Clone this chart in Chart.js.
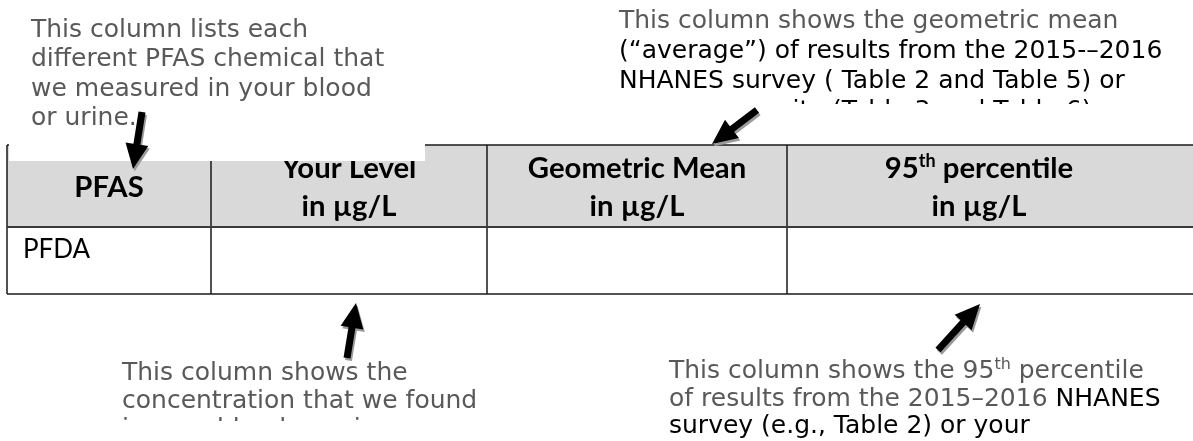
<!DOCTYPE html>
<html lang="en">
<head>
    <meta charset="UTF-8">
    <title>PFAS results table</title>
    <script src="https://cdn.jsdelivr.net/npm/chart.js"></script>
    <style>
        html, body { margin: 0; padding: 0; background: #fff; }
        #wrap { width: 1193px; height: 441px; }
    </style>
</head>
<body>
    <div id="wrap"><canvas id="pfasTable" width="1193" height="441"></canvas></div>
    <script>
        // table content
        const headLine1 = ['PFAS', 'Your Level', 'Geometric Mean', '95^th percentile'];
        const headLine2 = ['', 'in µg/L', 'in µg/L', 'in µg/L'];
        const rowLabels = ['PFDA'];

        // callout texts (segments; '^' marks superscript)
        const noteTopLeft = [
            ['This column lists each'],
            ['different PFAS chemical that'],
            ['we measured in your blood'],
            ['or urine.']
        ];
        const noteTopRight = [
            ['This column shows the geometric mean'],
            ['(“average”) of results from the 2015-–2016'],
            ['NHANES survey ( Table 2 and Table 5) or'],
            ['your community (Table 3 and Table 6)']
        ];
        const noteBottomLeft = [
            ['This column shows the'],
            ['concentration that we found'],
            ['in your blood or urine.']
        ];
        const noteBottomRight = [
            ['This column shows the 95', '^th', ' percentile'],
            ['of results from the 2015–2016 ', 'NHANES'],
            ['survey (e.g., Table 2) or your']
        ];

        // layout, in page units (the scales below map 0..1193 / 0..441)
        const grey = '#595959', ink = '#000';
        const layout = {
            cols: [7, 211, 487, 787, 1193],
            headTop: 145, headBottom: 227, rowBottom: 294,
            headCenters: [109, 349, 637, 979],
            headBase: [178, 216], singleBase: 197,
            headSize: 29.3,
            rowLeft: 23, rowBase: 258,
            mask: [9, 143, 425, 161],
            notes: [
                { lines: noteTopLeft, x: 31, y: 37, gap: 29.3, inks: [[grey], [grey], [grey], [grey]] },
                { lines: noteTopRight, x: 619, y: 28, gap: 30, clip: 104, inks: [[grey], [ink], [ink], [ink]] },
                { lines: noteBottomLeft, x: 122, y: 380, gap: 28, clip: 421, inks: [[grey], [grey], [grey]] },
                { lines: noteBottomRight, x: 669, y: 378, gap: 27.5, inks: [[grey, grey, grey], [grey, ink], [ink]] }
            ],
            arrows: [
                [142, 112, 133, 169],
                [757, 110, 712, 144],
                [347, 358, 356, 303],
                [938, 350, 980, 304]
            ]
        };

        const noteFont = '"DejaVu Sans"';
        const headFont = 'Lato';

        function drawRuns(ctx, runs, inks, x0, base, size, family, weight, align) {
            const sup = r => r.startsWith('^');
            const fontFor = r => (weight || '') + ' ' + (sup(r) ? Math.round(size * 0.62) : size) + 'px ' + family;
            let total = 0;
            runs.forEach(r => { ctx.font = fontFor(r); total += ctx.measureText(sup(r) ? r.slice(1) : r).width; });
            let x = align === 'center' ? x0 - total / 2 : x0;
            ctx.textAlign = 'left';
            ctx.textBaseline = 'alphabetic';
            runs.forEach((r, i) => {
                const t = sup(r) ? r.slice(1) : r;
                ctx.font = fontFor(r);
                ctx.fillStyle = inks ? inks[i] : ink;
                ctx.fillText(t, x, sup(r) ? base - size * 0.38 : base);
                x += ctx.measureText(t).width;
            });
        }

        function drawArrow(ctx, x1, y1, x2, y2, fill) {
            const ang = Math.atan2(y2 - y1, x2 - x1);
            const len = Math.hypot(x2 - x1, y2 - y1);
            const shaft = 3.5, head = 11.5, headLen = 25;
            ctx.save();
            ctx.translate(x1, y1);
            ctx.rotate(ang);
            ctx.beginPath();
            ctx.moveTo(0, -shaft);
            ctx.lineTo(len - headLen, -shaft);
            ctx.lineTo(len - headLen, -head);
            ctx.lineTo(len, 0);
            ctx.lineTo(len - headLen, head);
            ctx.lineTo(len - headLen, shaft);
            ctx.lineTo(0, shaft);
            ctx.closePath();
            ctx.fillStyle = fill;
            ctx.fill();
            ctx.restore();
        }

        const tablePlugin = {
            id: 'pfasTable',
            beforeDraw(chart) {
                const ctx = chart.ctx;
                ctx.save();
                ctx.fillStyle = '#fff';
                ctx.fillRect(0, 0, chart.width, chart.height);
                ctx.restore();
            },
            afterDraw(chart) {
                const { ctx, scales: { x, y } } = chart;
                const px = v => x.getPixelForValue(v);
                const py = v => y.getPixelForValue(v);
                const c = layout.cols;
                const hs = layout.headSize;
                ctx.save();

                // header band
                ctx.fillStyle = '#d9d9d9';
                ctx.fillRect(px(c[0]), py(layout.headTop), px(c[4]) - px(c[0]), py(layout.headBottom) - py(layout.headTop));

                // header labels
                headLine1.forEach((h, i) => {
                    const runs = h.split(/(\^\w+)/).filter(s => s);
                    if (headLine2[i]) {
                        drawRuns(ctx, runs, null, px(layout.headCenters[i]), py(layout.headBase[0]), hs, headFont, 'bold', 'center');
                        drawRuns(ctx, [headLine2[i]], null, px(layout.headCenters[i]), py(layout.headBase[1]), hs, headFont, 'bold', 'center');
                    } else {
                        drawRuns(ctx, runs, null, px(layout.headCenters[i]), py(layout.singleBase), hs, headFont, 'bold', 'center');
                    }
                });

                // body rows
                rowLabels.forEach(r => {
                    drawRuns(ctx, [r], null, px(layout.rowLeft), py(layout.rowBase), 26, headFont, '', 'left');
                });

                // grid lines
                ctx.strokeStyle = '#1a1a1a';
                ctx.lineWidth = 1.5;
                ctx.beginPath();
                [layout.headTop, layout.rowBottom].forEach(v => {
                    ctx.moveTo(px(c[0]), py(v));
                    ctx.lineTo(px(c[4]), py(v));
                });
                c.slice(0, 4).forEach(v => {
                    ctx.moveTo(px(v), py(layout.headTop));
                    ctx.lineTo(px(v), py(layout.rowBottom));
                });
                ctx.stroke();
                ctx.strokeStyle = '#3a3a3a';
                ctx.lineWidth = 2;
                ctx.beginPath();
                ctx.moveTo(px(c[0]), py(layout.headBottom));
                ctx.lineTo(px(c[4]), py(layout.headBottom));
                ctx.stroke();

                // white text box that overlaps the header
                const m = layout.mask;
                ctx.fillStyle = '#fff';
                ctx.fillRect(px(m[0]), py(m[1]), px(m[2]) - px(m[0]), py(m[3]) - py(m[1]));

                // callouts
                layout.notes.forEach(n => {
                    ctx.save();
                    if (n.clip) {
                        ctx.beginPath();
                        ctx.rect(0, 0, chart.width, py(n.clip));
                        ctx.clip();
                    }
                    n.lines.forEach((runs, i) => {
                        drawRuns(ctx, runs, n.inks[i], px(n.x), py(n.y + i * n.gap), 25, noteFont, '', 'left');
                    });
                    ctx.restore();
                });

                // arrows with a soft shadow
                layout.arrows.forEach(a => {
                    drawArrow(ctx, px(a[0]) + 1.5, py(a[1]) + 2.5, px(a[2]) + 1.5, py(a[3]) + 2.5, '#9a9a9a');
                    drawArrow(ctx, px(a[0]), py(a[1]), px(a[2]), py(a[3]), '#000');
                });

                ctx.restore();
            }
        };

        new Chart(document.getElementById('pfasTable'), {
            type: 'scatter',
            data: { datasets: [] },
            options: {
                responsive: false,
                animation: false,
                layout: { padding: 0 },
                plugins: { legend: { display: false }, tooltip: { enabled: false } },
                scales: {
                    x: { type: 'linear', min: 0, max: 1193, display: false },
                    y: { type: 'linear', min: 0, max: 441, reverse: true, display: false }
                }
            },
            plugins: [tablePlugin]
        });
    </script>
</body>
</html>
